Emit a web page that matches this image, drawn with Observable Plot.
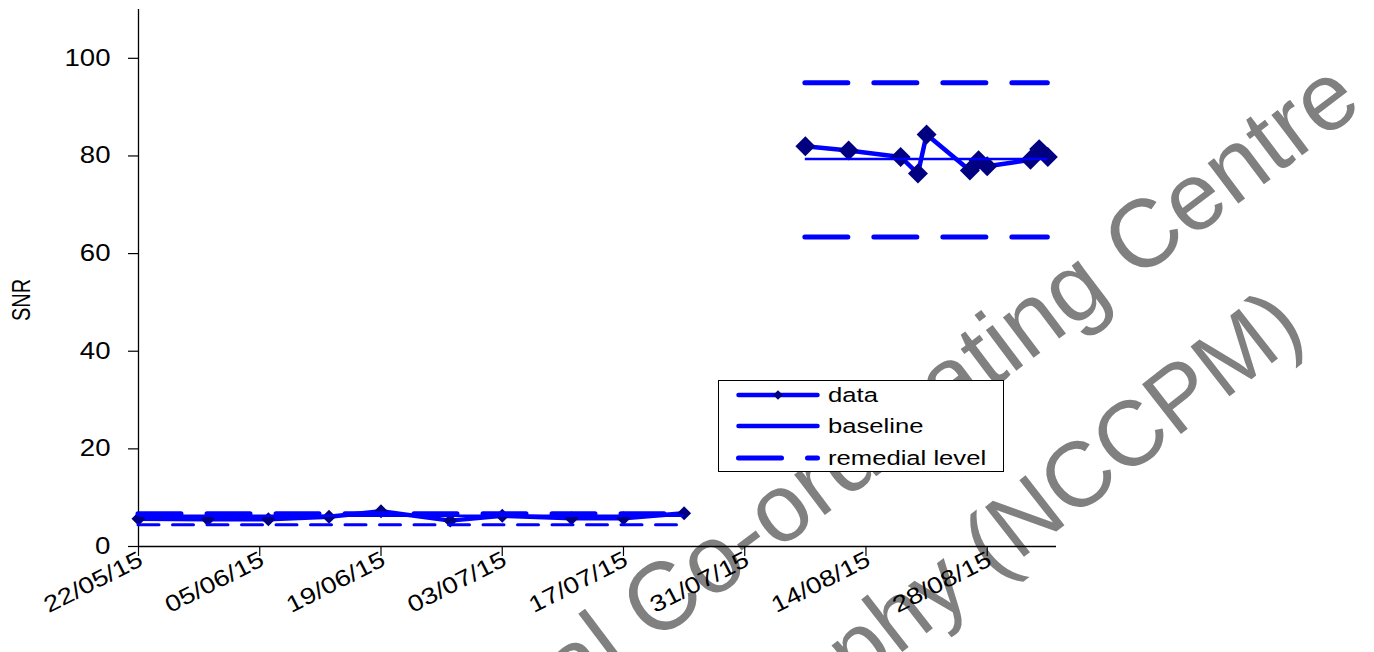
<!DOCTYPE html>
<html><head><meta charset="utf-8">
<script src="https://cdn.jsdelivr.net/npm/d3@7"></script>
<script src="https://cdn.jsdelivr.net/npm/@observablehq/plot@0.6"></script>
<style>
body{margin:0;background:#fff;}
#chart{position:relative;width:1374px;height:652px;overflow:hidden;background:#fff;}
</style></head><body><div id="chart"></div>
<script>
// ---- data ----
const dataDates1 = ["2015-05-22","2015-05-30","2015-06-06","2015-06-13","2015-06-19","2015-06-27","2015-07-03","2015-07-11","2015-07-17","2015-07-24"];
const dataValues1 = [5.7, 5.6, 5.6, 6.1, 7.2, 5.3, 6.3, 5.8, 5.8, 6.8];
const dataDates2 = ["2015-08-07","2015-08-12","2015-08-18","2015-08-20","2015-08-21","2015-08-26","2015-08-27","2015-08-28","2015-09-02","2015-09-03","2015-09-04"];
const dataValues2 = [82.0, 81.1, 79.8, 76.4, 84.4, 77.0, 79.1, 77.9, 79.2, 81.4, 79.8];
const periodStart = ["2015-05-22","2015-08-07"];
const periodEnd = ["2015-07-24","2015-09-04"];
const baselineValues = [6.3, 79.4];
const remedialUpper = [6.7, 95.0];
const remedialLower = [4.45, 63.4];
const xTicks = ["2015-05-22","2015-06-05","2015-06-19","2015-07-03","2015-07-17","2015-07-31","2015-08-14","2015-08-28"];
const yTicks = [0, 20, 40, 60, 80, 100];
const xDomain = ["2015-05-22","2015-09-05"];
const yDomain = [0, 110];
const yLabel = "SNR";
const legendLabels = ["data", "baseline", "remedial level"];
const watermarkLines = ["National Co-ordinating Centre", "for the Physics of Mammography (NCCPM)"];

// ---- build tables ----
const parse = d3.utcParse("%Y-%m-%d");
const fmt = d3.utcFormat("%d/%m/%y");
const data = [
  ...dataDates1.map((d, i) => ({date: parse(d), value: dataValues1[i], period: 0})),
  ...dataDates2.map((d, i) => ({date: parse(d), value: dataValues2[i], period: 1}))
];
const levels = periodStart.map((s, i) => ({
  start: parse(s), end: parse(periodEnd[i]),
  baseline: baselineValues[i], upper: remedialUpper[i], lower: remedialLower[i], period: i
}));
const tickData = xTicks.map(t => ({date: parse(t), label: fmt(parse(t))}));

const BLUE = "#0000ff", NAVY = "#000080";
const FONT = "'Liberation Sans', Arial, sans-serif";

const svg = Plot.plot({
  width: 1374, height: 652,
  marginLeft: 138, marginRight: 318, marginTop: 9, marginBottom: 106,
  style: {fontFamily: FONT, fontSize: "22px", color: "black", background: "white", overflow: "visible"},
  x: {type: "utc", domain: xDomain.map(parse), axis: null},
  y: {domain: yDomain, axis: null},
  marks: [
    Plot.axisY(yTicks, {tickSize: 10, tickPadding: 18, fontSize: 23, label: null, stroke: "black", strokeWidth: 1.2}),
    Plot.axisX(tickData.map(d => d.date), {tickSize: 10, tickFormat: () => "", label: null, stroke: "black", strokeWidth: 1.2}),
    Plot.ruleY([0], {stroke: "black", strokeWidth: 1.3}),
    Plot.ruleX([parse(xDomain[0])], {stroke: "black", strokeWidth: 1.3}),
    Plot.text(tickData, {x: "date", frameAnchor: "bottom", text: "label", rotate: -27, textAnchor: "end",
      lineAnchor: "bottom", dx: 6, dy: 18, fontSize: 23, fill: "black"}),
    // data
    Plot.line(data, {x: "date", y: "value", z: "period", stroke: BLUE, strokeWidth: 4.5, strokeLinejoin: "round"}),
    Plot.dot(data.filter(d => d.period === 0), {x: "date", y: "value", symbol: "diamond2", r: 6.3, fill: NAVY, stroke: "none"}),
    Plot.dot(data.filter(d => d.period === 1), {x: "date", y: "value", symbol: "diamond2", r: 9, fill: NAVY, stroke: "none"}),
    // baseline
    Plot.ruleY(levels, {y: "baseline", x1: "start", x2: "end", stroke: BLUE, strokeWidth: 2.5}),
    // remedial levels
    Plot.ruleY(levels, {y: "upper", x1: "start", x2: "end", stroke: BLUE, strokeWidth: 5, strokeDasharray: "43,26", strokeLinecap: "round"}),
    Plot.ruleY(levels.filter(d => d.period === 1), {y: "lower", x1: "start", x2: "end", stroke: BLUE, strokeWidth: 5, strokeDasharray: "43,26", strokeLinecap: "round"}),
    Plot.ruleY(levels.filter(d => d.period === 0), {y: "lower", x1: "start", x2: "end", stroke: BLUE, strokeWidth: 3, strokeDasharray: "21,13.5", strokeLinecap: "round"})
  ]
});
document.getElementById("chart").appendChild(svg);

const root = d3.select(svg);

// watermark (behind everything)
const wm = root.insert("g", ":first-child")
  .attr("fill", "#808080").attr("font-family", FONT).attr("font-size", 96).attr("text-anchor", "end");
wm.append("text").attr("transform", "translate(1365,108) rotate(-37)").text(watermarkLines[0]);
wm.append("text").attr("transform", "translate(1308,335) rotate(-38)").attr("font-size", 92).text(watermarkLines[1]);

// y axis title
root.append("text").attr("transform", "translate(30,300) scale(1.25,1) rotate(-90)")
  .attr("font-family", FONT).attr("font-size", 20).attr("text-anchor", "middle").attr("fill", "black").text(yLabel);

// legend
const lg = root.append("g").attr("font-family", FONT).attr("font-size", 20.5).attr("text-anchor", "start");
lg.append("rect").attr("x", 718.5).attr("y", 380.5).attr("width", 285).attr("height", 91)
  .attr("fill", "white").attr("stroke", "black").attr("stroke-width", 1);
const rowsY = [395, 426, 458];
const legendTexts = [];
legendLabels.forEach((lab, i) => {
  const y = rowsY[i];
  const ln = lg.append("line").attr("x1", 738.5).attr("x2", 817.5).attr("y1", y).attr("y2", y)
    .attr("stroke", BLUE).attr("stroke-width", i === 2 ? 5 : 4.5).attr("stroke-linecap", "round");
  if (i === 2) ln.attr("stroke-dasharray", "43,26");
  if (i === 0) lg.append("path").attr("d", d3.symbol(d3.symbolDiamond2, 60)()).attr("transform", `translate(778,${y})`).attr("fill", NAVY);
  legendTexts.push(lg.append("text").attr("x", 828).attr("y", y).attr("dy", "0.35em").attr("fill", "black").attr("text-anchor", "start").text(lab).node());
});

// the reference text is horizontally wide: stretch glyphs
function stretch(nodes, k) {
  nodes.forEach(n => {
    const L = n.getComputedTextLength();
    if (L > 0) { n.setAttribute("textLength", (L * k).toFixed(1)); n.setAttribute("lengthAdjust", "spacingAndGlyphs"); }
  });
}
const skip = new Set([...wm.selectAll("text").nodes(), ...legendTexts]);
stretch(Array.from(svg.querySelectorAll("text")).filter(t => !skip.has(t) && t.textContent !== yLabel), 1.2);
stretch(legendTexts, 1.25);
</script>
</body></html>
